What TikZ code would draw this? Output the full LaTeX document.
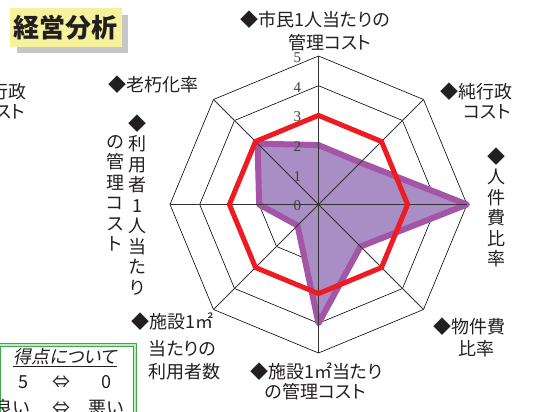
\documentclass[tikz,border=0pt]{standalone}
\usepackage{fontspec}
\setmainfont{Noto Sans CJK JP}[RawFeature=+palt]
\newfontfamily\numfont{Liberation Serif}
\newfontfamily\slantjp{Noto Sans CJK JP}[RawFeature=+palt, FakeSlant=0.2]
\definecolor{txt}{HTML}{231F20}
\definecolor{titleyellow}{HTML}{F6F29C}
\definecolor{shadowgray}{HTML}{C6C6C6}
\definecolor{purplefill}{HTML}{A88EC4}
\definecolor{purpleedge}{HTML}{A555A5}
\definecolor{redline}{HTML}{ED1C24}
\definecolor{boxgreen}{HTML}{3DAA4A}
\definecolor{boxlight}{HTML}{C4E8C4}
\definecolor{ticktxt}{HTML}{3F3F3F}
\begin{document}
\begin{tikzpicture}[x=1pt,y=-1pt,
  lbl/.style={inner sep=0pt, text=txt, font=\fontsize{18}{20.5}\selectfont},
  vlbl/.style={lbl, align=center},
  gridline/.style={draw=black, line width=0.6pt},
  axisline/.style={draw=black!80, line width=0.8pt},
  ticklbl/.style={inner sep=0pt, text=ticktxt, font=\numfont\fontsize{15}{15}\selectfont}]
\useasboundingbox (0,0) rectangle (536,412);

% title
\fill[shadowgray] (16.7,15) rectangle (128.3,53.3);
\node[fill=titleyellow, minimum width=111.7pt, minimum height=38.4pt, inner sep=0pt,
      text=txt, font=\fontsize{26}{26}\selectfont\bfseries] (title) at (65.8,27.5) {経営分析};

% radar chart
\begin{scope}[shift={(318.5,204.5)}, x=29.7pt, y=29.7pt]
  \foreach \r in {1,...,5}
    \draw[gridline] (90:\r) -- (45:\r) -- (0:\r) -- (-45:\r) -- (-90:\r) -- (-135:\r) -- (180:\r) -- (135:\r) -- cycle;
  \draw[line width=6pt, line join=round, draw=purpleedge, fill=purplefill]
    (90:2) -- (45:2) -- (0:5) -- (-45:2) -- (-90:4) -- (-135:1) -- (180:2) -- (135:2.9) -- cycle;
  \coordinate (c) at (0,0);
  \foreach \a in {0,45,...,315}
    \draw[axisline] (c) -- (\a:5);
  \draw[line width=5pt, draw=redline]
    (90:3) -- (45:3) -- (0:3) -- (-45:3) -- (-90:3) -- (-135:3) -- (180:3) -- (135:3) -- cycle;
  \foreach \v in {0,...,5}
    \node[ticklbl] (t\v) at (-0.71,{\v-0.05}) {\v};
\end{scope}

% axis labels
\node[lbl, anchor=west] (topA) at (240,20) {◆市民1人当たりの};
\node[lbl, anchor=west] (topB) at (288,43) {管理コスト};
\node[lbl, anchor=west] (trA) at (440,92) {◆純行政};
\node[lbl, anchor=west] (trB) at (463.3,112) {コスト};
\node[lbl, anchor=west] (ltA) at (-45.3,92) {◆純行政};
\node[lbl, anchor=west] (ltB) at (-22,112) {コスト};
\node[vlbl] (rgt) at (496,207.5) {◆\\人\\件\\費\\比\\率};
\node[lbl, anchor=west] (brA) at (433.3,327) {◆物件費};
\node[lbl, anchor=west] (brB) at (458.3,348.3) {比率};
\node[lbl, anchor=west] (btA) at (250,372) {◆施設1㎡当たり};
\node[lbl, anchor=west] (btB) at (265,391.7) {の管理コスト};
\node[lbl, anchor=west] (blA) at (131.7,321.7) {◆施設1㎡};
\node[lbl, anchor=west] (blB) at (148.3,348.3) {当たりの};
\node[lbl, anchor=west] (blC) at (148.3,371.7) {利用者数};
\node[vlbl] (lfA) at (137.3,205) {◆\\利\\用\\者\\1\\人\\当\\た\\り};
\node[vlbl] (lfB) at (115,193.3) {の\\管\\理\\コ\\ス\\ト};
\node[lbl, anchor=west] (tlA) at (108.3,85) {◆老朽化率};

% score box
\draw[draw=boxgreen, line width=1pt, double=boxlight, double distance=1.6pt] (-0.5,345) rectangle (135,440);
\node[lbl, font=\slantjp\fontsize{18}{20}\selectfont] (sT) at (65,358) {\underline{得点について}};
\node[lbl] (s5) at (23,382) {5};
\node[lbl] (sA1) at (61.7,382) {⇔};
\node[lbl] (s0) at (106.7,382) {0};
\node[lbl] (sG) at (12,408) {良い};
\node[lbl] (sA2) at (61.7,408) {⇔};
\node[lbl] (sB) at (105.8,408) {悪い};
\end{tikzpicture}
\end{document}
